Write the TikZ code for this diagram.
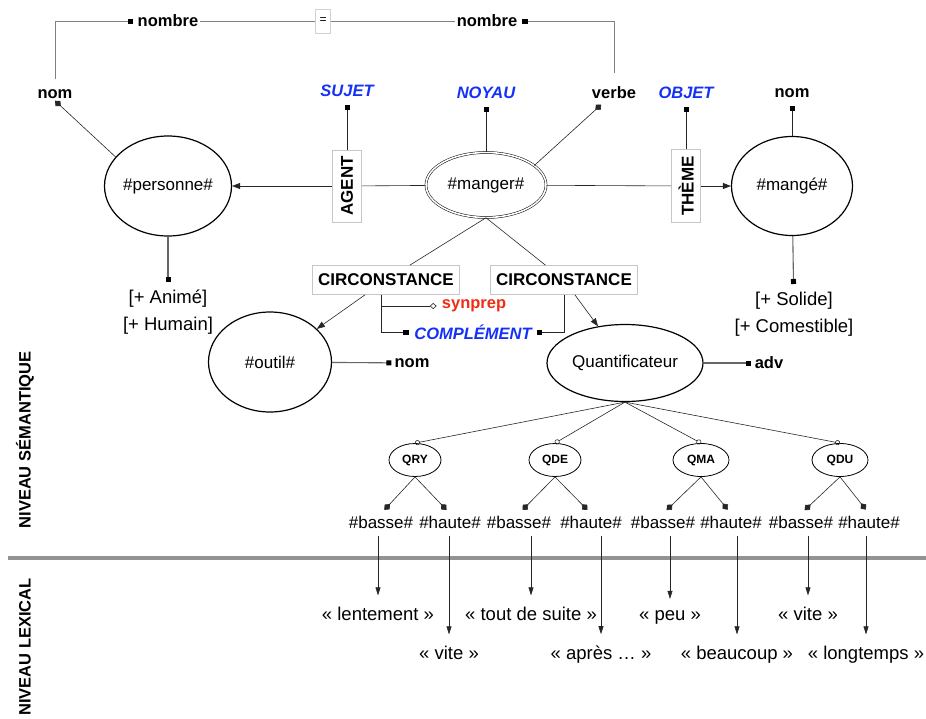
\documentclass[tikz,border=0pt]{standalone}
\usepackage{fontspec}
\setmainfont{Liberation Sans}
\usetikzlibrary{arrows.meta, shapes.geometric}

\definecolor{roleblue}{RGB}{20,50,245}
\definecolor{synred}{RGB}{240,45,20}

\begin{document}
\begin{tikzpicture}[
    x=1pt, y=-1pt,
    concept style/.style={
        draw,
        ellipse,
        line width=1.2pt,
        inner sep=0pt,
        font=\fontsize{17}{20}\selectfont
    },
    q style/.style={
        draw,
        ellipse,
        line width=0.8pt,
        minimum width=52pt,
        minimum height=33pt,
        inner sep=0pt,
        font=\fontsize{12}{14}\selectfont\bfseries
    },
    box style/.style={
        draw=gray!45,
        fill=white,
        line width=0.6pt,
        inner sep=0pt,
        font=\fontsize{17}{20}\selectfont\bfseries
    },
    tag style/.style={
        inner sep=2pt,
        font=\fontsize{16.5}{19}\selectfont\bfseries
    },
    role style/.style={
        inner sep=2pt,
        text=roleblue,
        font=\fontsize{16.5}{19}\selectfont\bfseries\itshape
    },
    trait style/.style={
        align=center,
        inner sep=2pt,
        font=\fontsize{18.5}{27}\selectfont
    },
    value style/.style={
        inner sep=2pt,
        font=\fontsize{17}{20}\selectfont
    },
    lex style/.style={
        anchor=base,
        inner sep=2pt,
        font=\fontsize{18.5}{22}\selectfont
    },
    level style/.style={
        rotate=90,
        font=\fontsize{16.5}{19}\selectfont\bfseries
    },
    link style/.style={
        line width=0.6pt,
        draw=black!85
    },
    gray link/.style={
        line width=0.8pt,
        draw=gray
    },
    arrow style/.style={
        link style,
        -{Triangle[length=8pt,width=6pt]}
    },
    square link/.style={
        link style,
        -{Square[length=5pt,width=5pt,black]},
        shorten >=6pt
    },
    diamond link/.style={
        link style,
        -{Diamond[length=8pt,width=7pt]},
        shorten >=5pt
    },
    circle link/.style={
        link style,
        -{Circle[open,length=5pt,width=5pt]}
    },
    trait link/.style={
        line width=1.1pt,
        draw=gray!80!black,
        -{Square[length=5pt,width=5pt,black]},
        shorten >=6pt
    },
    lex arrow/.style={
        link style,
        -{Triangle[length=8pt,width=5pt]},
        shorten <=6pt,
        shorten >=9pt
    }
]

\useasboundingbox (0,0) rectangle (926,718);

% Top labels
\node[tag style]  (nomL)  at (55,94)  {nom};
\node[role style] (sujet) at (347,91) {SUJET};
\node[role style] (noyau) at (486,93) {NOYAU};
\node[tag style]  (verbe) at (614,93) {verbe};
\node[role style] (objet) at (686,93) {OBJET};
\node[tag style]  (nomR)  at (792,93) {nom};

% Agreement
\node[tag style] (nombreL) at (168,21) {nombre};
\node[tag style] (nombreR) at (487,21) {nombre};
\node[draw=gray!35, minimum width=15pt, minimum height=24pt, inner sep=0pt,
      font=\fontsize{12}{13}\selectfont] (egal) at (323,21) {=};

% Concepts
\node[concept style, minimum width=125pt, minimum height=100pt] (personne) at (168,186) {\#personne\#};
\node[concept style, double, double distance=1.6pt, line width=0.5pt,
      minimum width=120pt, minimum height=65pt] (manger) at (486,185) {\#manger\#};
\node[concept style, minimum width=121pt, minimum height=99pt] (mange) at (792,186) {\#mangé\#};

% Roles
\node[box style, rotate=90, minimum width=72pt, minimum height=29pt] (agent) at (347,186) {AGENT};
\node[box style, rotate=90, minimum width=73pt, minimum height=29pt] (theme) at (686,186) {THÈME};

% Features
\node[trait style, anchor=north] (traitsP) at (168,288) {{[+ Animé]}\\{[+ Humain]}};
\node[trait style, anchor=north] (traitsM) at (794,290) {{[+ Solide]}\\{[+ Comestible]}};

% Circumstances
\node[box style, minimum width=147pt, minimum height=29pt] (circL) at (386,280) {CIRCONSTANCE};
\node[box style, minimum width=147pt, minimum height=29pt] (circR) at (564,280) {CIRCONSTANCE};
\node[concept style, minimum width=123pt, minimum height=100pt] (outil) at (270,362) {\#outil\#};
\node[concept style, minimum width=156pt, minimum height=77pt] (quant) at (625,363) {Quantificateur};
\node[tag style, text=synred] (synprep) at (474,306) {synprep};
\node[role style] (compl) at (473,332) {COMPLÉMENT};
\node[tag style] (nomO) at (412,363) {nom};
\node[tag style] (adv)  at (769,363) {adv};

% Quantifier values
\node[q style] (qry) at (415,460) {QRY};
\node[q style] (qde) at (555,460) {QDE};
\node[q style, minimum width=56pt] (qma) at (701,460) {QMA};
\node[q style, minimum width=56pt] (qdu) at (840,460) {QDU};

\node[value style] (basse1) at (381,522) {\#basse\#};
\node[value style] (haute1) at (450,522) {\#haute\#};
\node[value style] (basse2) at (519,522) {\#basse\#};
\node[value style] (haute2) at (591,522) {\#haute\#};
\node[value style] (basse3) at (663,522) {\#basse\#};
\node[value style] (haute3) at (731,522) {\#haute\#};
\node[value style] (basse4) at (801,522) {\#basse\#};
\node[value style] (haute4) at (869,522) {\#haute\#};

% Lexical items
\node[lex style] (lentement) at (378,620) {« lentement »};
\node[lex style] (toutsuite) at (531,620) {« tout de suite »};
\node[lex style] (peu)       at (670,620) {« peu »};
\node[lex style] (vite2)     at (808,620) {« vite »};
\node[lex style] (vite1)     at (449,659) {« vite »};
\node[lex style] (apres)     at (601,659) {« après … »};
\node[lex style] (beaucoup)  at (737,659) {« beaucoup »};
\node[lex style] (longtemps) at (866,659) {« longtemps »};

% Levels
\draw[line width=3.5pt, draw=gray!85] (8,558) -- (926,558);
\node[level style] (semantique) at (25,440) {NIVEAU SÉMANTIQUE};
\node[level style] (lexical)    at (25,647) {NIVEAU LEXICAL};

% Agreement links
\draw[gray link, -{Square[length=5pt,width=5pt,black]}, shorten <=8pt, shorten >=3pt] (nomL.north) |- (nombreL.west);
\draw[gray link] (nombreL) -- (egal);
\draw[gray link] (egal) -- (nombreR);
\draw[gray link, -{Square[length=5pt,width=5pt,black]}, shorten <=12pt, shorten >=3pt] (verbe.north) |- (nombreR.east);

% Role links
\draw[link style] (manger) -- (agent);
\draw[arrow style] (agent) -- (personne);
\draw[square link] (agent) -- (sujet);
\draw[square link] (manger) -- (noyau);
\draw[diamond link] (manger.22) -- (verbe);
\draw[link style] (manger) -- (theme);
\draw[arrow style] (theme) -- (mange);
\draw[square link] (theme) -- (objet);
\draw[square link] (mange) -- (nomR);
\draw[diamond link, shorten >=0pt] (personne.151) -- (nomL.south);
\draw[trait link] (personne) -- (traitsP);
\draw[trait link] (mange) -- (traitsM);

% Circumstance links
\draw[link style] (manger.south) -- (circL);
\draw[link style] (manger.south) -- (circR);
\draw[arrow style] (circL) -- (outil);
\draw[arrow style] (circR) -- (quant);
\coordinate (branch) at ([xshift=-5pt]circL.south);
\draw[square link, shorten >=4pt] (branch) |- (compl.west);
\draw[square link, shorten >=3pt] (circR.south) |- (compl.east);
\draw[link style, -{Diamond[open,length=7pt,width=6pt]}, shorten >=3pt] (branch |- synprep.west) -- (synprep.west);
\draw[trait link, shorten >=1pt] (outil) -- (nomO);
\draw[trait link, shorten >=2pt] (quant) -- (adv);

% Quantifier tree
\draw[circle link] (quant.south) -- (qry.north);
\draw[circle link] (quant.south) -- (qde.north);
\draw[circle link] (quant.south) -- (qma.north);
\draw[circle link] (quant.south) -- (qdu.north);
\draw[diamond link] (qry.south) -- (basse1.north);
\draw[diamond link] (qry.south) -- (haute1.north);
\draw[diamond link] (qde.south) -- (basse2.north);
\draw[diamond link] (qde.south) -- (haute2.north);
\draw[diamond link] (qma.south) -- (basse3.north);
\draw[diamond link] (qma.south) -- (haute3.north);
\draw[diamond link] (qdu.south) -- (basse4.north);
\draw[diamond link] (qdu.south) -- (haute4.north);

% Lexicalisation
\draw[lex arrow] (lentement.north |- basse1.south) -- (lentement.north);
\draw[lex arrow] (vite1.north |- haute1.south) -- (vite1.north);
\draw[lex arrow] (toutsuite.north |- basse2.south) -- (toutsuite.north);
\draw[lex arrow] (apres.north |- haute2.south) -- (apres.north);
\draw[lex arrow] (peu.north |- basse3.south) -- (peu.north);
\draw[lex arrow] (beaucoup.north |- haute3.south) -- (beaucoup.north);
\draw[lex arrow] (vite2.north |- basse4.south) -- (vite2.north);
\draw[lex arrow] (longtemps.north |- haute4.south) -- (longtemps.north);

\end{tikzpicture}
\end{document}
